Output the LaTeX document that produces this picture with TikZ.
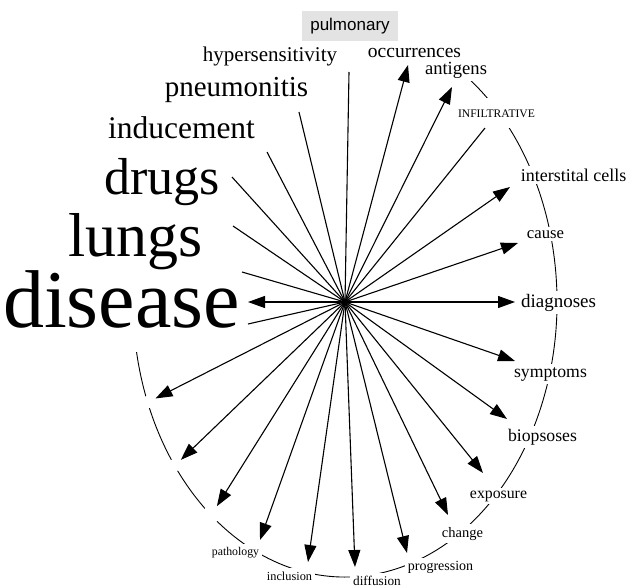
\documentclass[tikz,border=0pt]{standalone}
\usepackage{fontspec}
\setmainfont{Liberation Serif}
\newfontfamily\sansword{Liberation Sans}
\usetikzlibrary{arrows.meta}
\definecolor{PaleGray}{HTML}{E3E3E3}
\newcommand{\fsz}[1]{\fontsize{#1}{#1}\selectfont}

\begin{document}
\begin{tikzpicture}[x=1pt,y=-1pt,>={Triangle[length=17pt,width=12pt]}]
    \tikzstyle{word}=[fill=white,inner sep=3pt,anchor=base]
    \tikzstyle{gap}=[circle,fill=white,inner sep=0pt,minimum size=13pt]
    \tikzstyle{link}=[line width=1.1pt]
    \useasboundingbox (0,0) rectangle (627,587);
    \coordinate (hub) at (345,302);
    % ring behind the words
    \draw[line width=.9pt] (hub) ++(-60:212 and 275) arc[start angle=-60,end angle=169.5,x radius=212,y radius=275];
    % words
    \node[fill=PaleGray,inner sep=0pt,minimum width=96pt,minimum height=30pt,font=\sansword\fsz{17}] (pulmonary) at (350,26) {pulmonary};
    \node[word,font=\fsz{21}]   (hyper)   at (270,61)    {hypersensitivity};
    \node[word,font=\fsz{29}]   (pneumo)  at (236.5,96)  {pneumonitis};
    \node[word,font=\fsz{31.5}] (induce)  at (181.5,138) {inducement};
    \node[word,font=\fsz{52}]   (drugs)   at (162,194)   {drugs};
    \node[word,fill=none,font=\fsz{62}] (lungs) at (135.5,256) {lungs};
    \node[word,fill=none,font=\fsz{82}] (disease) at (121.5,327) {disease};
    \node[word,font=\fsz{19.5}] (occur)   at (414.5,57)  {occurrences};
    \node[word,font=\fsz{18.6}] (antigen) at (456,74)    {antigens};
    \node[word,font=\fsz{11.6},minimum height=30pt] (infil) at (496.5,117) {INFILTRATIVE};
    \node[word,font=\fsz{18}]   (inter)   at (573.5,181) {interstital cells};
    \node[word,font=\fsz{16.7}] (cause)   at (545.5,238) {cause};
    \node[word,font=\fsz{19}]   (diagn)   at (558.5,307) {diagnoses};
    \node[word,font=\fsz{17.7}] (sympt)   at (550.5,377) {symptoms};
    \node[word,font=\fsz{17.7}] (biops)   at (542.5,441) {biopsoses};
    \node[word,font=\fsz{15.8}] (expo)    at (498.5,498) {exposure};
    \node[word,font=\fsz{14.5}] (change)  at (462.5,537) {change};
    \node[word,font=\fsz{14}]   (progr)   at (440.5,570) {progression};
    \node[word,font=\fsz{13.3}] (diffu)   at (377,585)   {diffusion};
    \node[word,font=\fsz{12.3}] (inclu)   at (289.5,580) {inclusion};
    \node[word,font=\fsz{11.8}] (patho)   at (235.5,555) {pathology};
    % unlabelled ring points
    \node[gap] (e1) at (149.5,401.5) {};
    \node[gap] (e2) at (176,464.5) {};
    \node[gap,minimum size=18pt] (e3) at (212,514) {};
    % where the spokes stop
    \coordinate (pulmonary-end) at (349,72);
    \coordinate (pneumo-end)    at (299,112);
    \coordinate (induce-end)    at (267,152);
    \coordinate (drugs-end)     at (232,177);
    \coordinate (lungs-end)     at (233,226);
    \coordinate (disease-a)     at (242,272);
    \coordinate (disease-b)     at (248,324);
    \coordinate (infil-end)     at (485,128);
    \coordinate (occur-tip)   at (408,65);
    \coordinate (antigen-tip) at (452,87);
    \coordinate (inter-tip)   at (510,187);
    \coordinate (cause-tip)   at (518,243);
    \coordinate (diagn-tip)   at (515,302);
    \coordinate (sympt-tip)   at (515,361);
    \coordinate (biops-tip)   at (507,419);
    \coordinate (expo-tip)    at (483,473);
    \coordinate (change-tip)  at (448,515);
    \coordinate (progr-tip)   at (407,553);
    \coordinate (diffu-tip)   at (355,567);
    \coordinate (inclu-tip)   at (308,562);
    \coordinate (patho-tip)   at (260,540);
    \coordinate (disease-tip) at (248,302);
    % spokes
    \draw[link] (pulmonary-end) -- (hub);
    \draw[link] (pneumo-end) -- (hub);
    \draw[link] (induce-end) -- (hub);
    \draw[link] (drugs-end) -- (hub);
    \draw[link] (lungs-end) -- (hub);
    \draw[link] (disease-a) -- (hub);
    \draw[link] (disease-b) -- (hub);
    \draw[link] (infil-end) -- (hub);
    \draw[link,->] (hub) -- (occur-tip);
    \draw[link,->] (hub) -- (antigen-tip);
    \draw[link,->] (hub) -- (inter-tip);
    \draw[link,->] (hub) -- (cause-tip);
    \draw[link,->] (hub) -- (diagn-tip);
    \draw[link,->] (hub) -- (sympt-tip);
    \draw[link,->] (hub) -- (biops-tip);
    \draw[link,->] (hub) -- (expo-tip);
    \draw[link,->] (hub) -- (change-tip);
    \draw[link,->] (hub) -- (progr-tip);
    \draw[link,->] (hub) -- (diffu-tip);
    \draw[link,->] (hub) -- (inclu-tip);
    \draw[link,->] (hub) -- (patho-tip);
    \draw[link,->] (hub) -- (e3);
    \draw[link,->] (hub) -- (e2);
    \draw[link,->] (hub) -- (e1);
    \draw[link,->] (hub) -- (disease-tip);
\end{tikzpicture}
\end{document}
